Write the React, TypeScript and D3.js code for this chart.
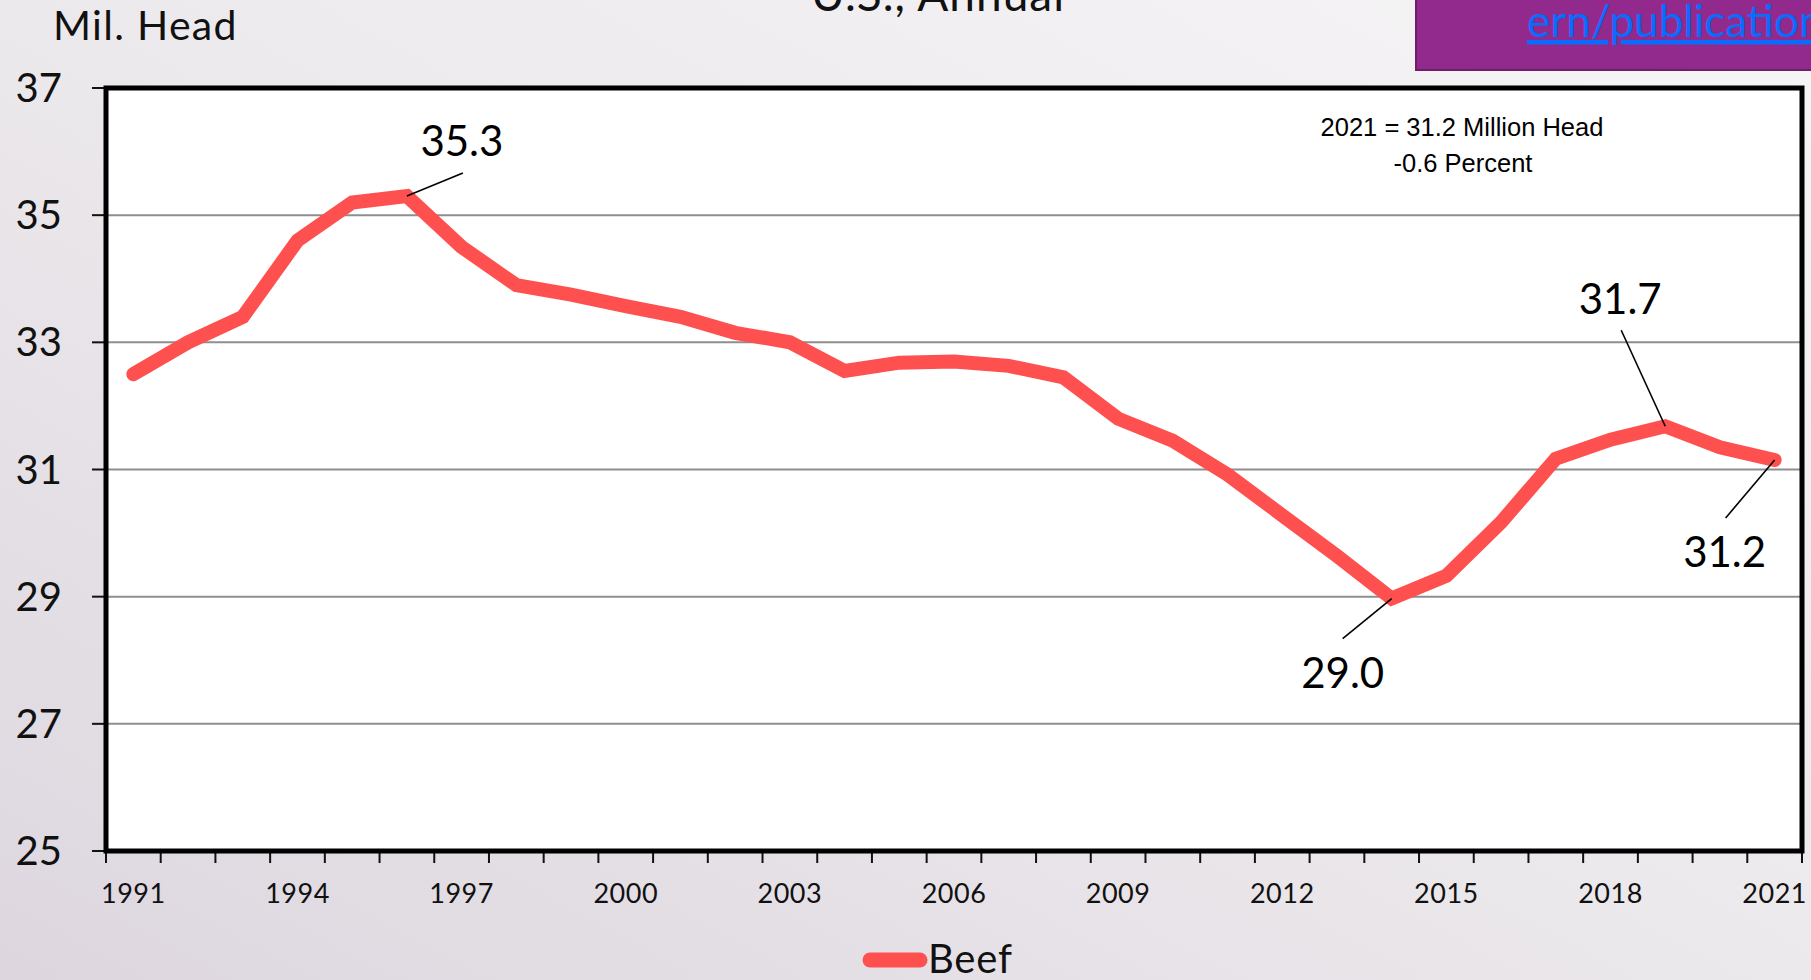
import React from "react";
import * as d3 from "d3";

const years: number[] = d3.range(1991, 2022);
const beef: number[] = [
  32.5, 33.0, 33.4, 34.6, 35.2, 35.3, 34.5, 33.9, 33.75, 33.57, 33.4, 33.15, 33.0, 32.55, 32.68,
  32.7, 32.63, 32.45, 31.8, 31.45, 30.92, 30.28, 29.64, 28.97, 29.33, 30.17, 31.17, 31.47, 31.68,
  31.35, 31.15,
];
const yTicks: number[] = [25, 27, 29, 31, 33, 35, 37];
const xLabelYears: number[] = [1991, 1994, 1997, 2000, 2003, 2006, 2009, 2012, 2015, 2018, 2021];
const callouts = [
  { year: 1996, text: "35.3", dx: 56, dy: -23, tx: 55, ty: -40 },
  { year: 2014, text: "29.0", dx: -49, dy: 40, tx: -49, ty: 89 },
  { year: 2019, text: "31.7", dx: -44, dy: -96, tx: -45, ty: -112 },
  { year: 2021, text: "31.2", dx: -49, dy: 58, tx: -50, ty: 107 },
];

const W = 1811;
const H = 980;
const left = 106;
const right = 1802;
const top = 88;
const bottom = 851;
const LINE = "#FF5050";
const CAL = "Lato, 'Open Sans', sans-serif";
const ARIAL = "'Liberation Sans', Arial, sans-serif";

export default function App() {
  const x = d3.scaleBand<number>().domain(years).range([left, right]).padding(0);
  const y = d3.scaleLinear().domain([25, 37]).range([bottom, top]);
  const cx = (yr: number) => (x(yr) as number) + x.bandwidth() / 2;
  const line = d3
    .line<number>()
    .x((_, i) => cx(years[i]))
    .y((v) => y(v));
  const boundaries = d3.range(years.length + 1).map((i) => left + i * x.bandwidth());

  return (
    <svg
      width={W}
      height={H}
      style={{ position: "fixed", left: 0, top: 0 }}
      xmlns="http://www.w3.org/2000/svg"
    >
      <defs>
        <linearGradient id="bg" x1="1" y1="0" x2="0" y2="1">
          <stop offset="0" stopColor="#F6F5F6" />
          <stop offset="0.5" stopColor="#ECE9EC" />
          <stop offset="1" stopColor="#DDD6DF" />
        </linearGradient>
      </defs>
      <rect x={0} y={0} width={W} height={H} fill="url(#bg)" />

      {/* title (cut off at top, as in the reference) */}
      <text x={938} y={11} textAnchor="middle" fontFamily={CAL} fontSize={46} letterSpacing={1} fill="#111">
        U.S., Annual
      </text>

      {/* purple link box */}
      <rect x={1416} y={-4} width={420} height={74} fill="#912A8C" stroke="#6E1F6A" strokeWidth={2} />
      <text x={1527} y={37} fontFamily={CAL} fontSize={44} fill="#0A6CFF" textDecoration="underline">
        ern/publications
      </text>

      {/* y axis title */}
      <text x={53} y={40} fontFamily={CAL} fontSize={41} letterSpacing={1.3} fill="#111">
        Mil. Head
      </text>

      {/* plot area */}
      <rect x={left} y={top} width={right - left} height={bottom - top} fill="#fff" />

      {/* gridlines */}
      {yTicks
        .filter((t) => t !== 25 && t !== 37)
        .map((t) => (
          <line key={t} x1={left} x2={right} y1={y(t)} y2={y(t)} stroke="#8E8E8E" strokeWidth={2} />
        ))}

      {/* y ticks and labels */}
      {yTicks.map((t) => (
        <g key={t}>
          <line x1={92} x2={left} y1={y(t)} y2={y(t)} stroke="#111" strokeWidth={2} />
          <text
            x={62}
            y={y(t)}
            dy="0.35em"
            textAnchor="end"
            fontFamily={CAL}
            fontSize={40}
            fill="#111"
          >
            {t}
          </text>
        </g>
      ))}

      {/* x ticks */}
      {boundaries.map((b, i) => (
        <line key={i} x1={b} x2={b} y1={bottom} y2={bottom + 12} stroke="#111" strokeWidth={2} />
      ))}
      {xLabelYears.map((yr) => (
        <text
          key={yr}
          x={cx(yr)}
          y={903}
          textAnchor="middle"
          fontFamily={CAL}
          fontSize={27}
          letterSpacing={0.5}
          fill="#111"
        >
          {yr}
        </text>
      ))}

      {/* data line */}
      <path
        d={line(beef) as string}
        fill="none"
        stroke={LINE}
        strokeWidth={14}
        strokeLinecap="round"
        strokeLinejoin="miter"
      />

      {/* callouts */}
      {callouts.map((c) => {
        const px = cx(c.year);
        const py = y(beef[years.indexOf(c.year)]);
        return (
          <g key={c.year}>
            <line x1={px} y1={py} x2={px + c.dx} y2={py + c.dy} stroke="#000" strokeWidth={1.6} />
            <text
              x={px + c.tx}
              y={py + c.ty}
              textAnchor="middle"
              fontFamily={CAL}
              fontSize={42}
              fill="#000"
            >
              {c.text}
            </text>
          </g>
        );
      })}

      {/* note */}
      <text x={1462} y={136} textAnchor="middle" fontFamily={ARIAL} fontSize={25.5} fill="#000">
        2021 = 31.2 Million Head
      </text>
      <text x={1463} y={172} textAnchor="middle" fontFamily={ARIAL} fontSize={25.5} fill="#000">
        -0.6 Percent
      </text>

      {/* plot border */}
      <rect
        x={left}
        y={top}
        width={right - left}
        height={bottom - top}
        fill="none"
        stroke="#000"
        strokeWidth={5}
      />

      {/* legend */}
      <line x1={870} x2={920} y1={960} y2={960} stroke={LINE} strokeWidth={15} strokeLinecap="round" />
      <text x={928} y={973} fontFamily={CAL} fontSize={40} letterSpacing={0.8} fill="#111">
        Beef
      </text>
    </svg>
  );
}
